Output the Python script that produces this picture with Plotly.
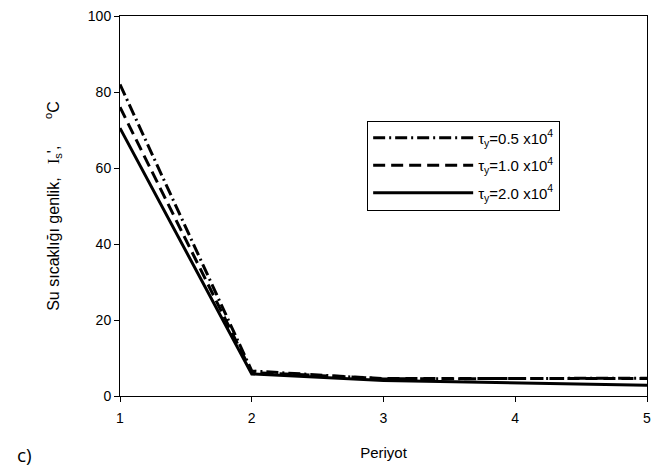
import plotly.graph_objects as go

periods = [1, 2, 3, 4, 5]
tau_05 = [82.0, 6.6, 4.5, 4.6, 4.7]
tau_10 = [76.0, 6.2, 4.6, 4.6, 4.6]
tau_20 = [70.5, 5.8, 4.1, 3.4, 2.8]
series_names = ["τ<sub>y</sub>=0.5 x10<sup>4</sup>",
                "τ<sub>y</sub>=1.0 x10<sup>4</sup>",
                "τ<sub>y</sub>=2.0 x10<sup>4</sup>"]
x_ticks = [1, 2, 3, 4, 5]
y_ticks = [0, 20, 40, 60, 80, 100]

FONT = "Liberation Sans, Arial, sans-serif"
fig = go.Figure()
styles = ["12px,4px,2px,4px", "12px,6px", "solid"]
for i, (vals, name, dash) in enumerate(zip([tau_05, tau_10, tau_20], series_names, styles)):
    fig.add_trace(go.Scatter(x=periods, y=vals, mode="lines", name=name,
                             legendgroup=f"g{i}", cliponaxis=False,
                             line=dict(color="black", width=3, dash=dash)))

NB = "\u00a0"
ytitle = ("Su sıcaklığı genlik," + NB * 3 +
          "<span style=\"font-family:Liberation Serif\">I</span><sub>s</sub>'," + NB * 6 +
          "<sup>o</sup>C")

axis_common = dict(showgrid=False, zeroline=False, showline=True, linecolor="black",
                   linewidth=1, mirror=True, ticks="outside", ticklen=5,
                   tickcolor="black", ticklabeloverflow="allow",
                   tickfont=dict(family=FONT, size=14, color="black"))
fig.update_xaxes(range=[1, 5], tickvals=x_ticks, **axis_common, ticklabelstandoff=4,
                 title=dict(text="Periyot", font=dict(family=FONT, size=15, color="black"), standoff=22))
fig.update_yaxes(range=[0, 100], tickvals=y_ticks, **axis_common,
                 title=dict(text=ytitle, font=dict(family=FONT, size=16, color="black"), standoff=24))

fig.update_layout(
    width=656, height=470,
    margin=dict(l=120, r=5, t=16, b=74),
    plot_bgcolor="white", paper_bgcolor="white",
    font=dict(family=FONT, size=14, color="black"),
    legend=dict(x=0.469, y=0.725, xanchor="left", yanchor="top",
                bordercolor="black", borderwidth=1, bgcolor="white",
                font=dict(family=FONT, size=15, color="black"),
                itemwidth=100, tracegroupgap=5),
    annotations=[dict(text="c)", xref="paper", yref="paper", x=-0.2, y=-0.155,
                      xanchor="left", yanchor="middle", showarrow=False,
                      font=dict(family="Open Sans, sans-serif", size=19, color="black"))],
)
fig.write_html("out.html", config={"displayModeBar": False},
               post_script="document.body.style.margin='0';document.body.style.overflow='hidden';")
